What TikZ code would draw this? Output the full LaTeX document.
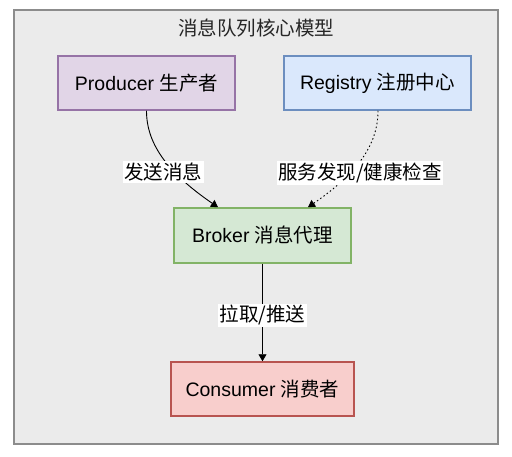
\documentclass[tikz,border=0pt]{standalone}
\usepackage{fontspec}
\setmainfont{Liberation Sans}
\newfontfamily\cjk{Noto Sans CJK SC}
\usetikzlibrary{arrows.meta,calc}
\definecolor{outerfill}{HTML}{EBEBEB}
\definecolor{outerdraw}{HTML}{8C8C8C}
\definecolor{pfill}{HTML}{E1D5E7}\definecolor{pdraw}{HTML}{9673A6}
\definecolor{bfill}{HTML}{DAE8FC}\definecolor{bdraw}{HTML}{6C8EBF}
\definecolor{gfill}{HTML}{D5E8D4}\definecolor{gdraw}{HTML}{82B366}
\definecolor{rfill}{HTML}{F8CECC}\definecolor{rdraw}{HTML}{B85450}
\tikzset{
  box/.style={draw, line width=1.5pt, minimum height=54pt, inner sep=0pt, font=\fontsize{19.5}{23}\selectfont},
  lbl/.style={fill=white, inner sep=1.5pt, font=\fontsize{19.5}{23}\selectfont\cjk},
  conn/.style={line width=0.9pt, -{Triangle[length=7pt,width=8pt]}},
}
\begin{document}
\begin{tikzpicture}[x=1pt,y=-1pt]
\useasboundingbox (0,0) rectangle (512,456);
\draw[fill=outerfill, draw=outerdraw, line width=1.5pt] (14,10) rectangle (498,444);
\node[font=\fontsize{19.5}{23}\selectfont\cjk, text=black!85] (title) at (256,28) {消息队列核心模型};
\node[box, fill=pfill, draw=pdraw, minimum width=177pt] (prod) at (146.5,83) {Producer {\cjk 生产者}};
\node[box, fill=bfill, draw=bdraw, minimum width=187pt] (reg) at (377.5,83) {Registry {\cjk 注册中心}};
\node[box, fill=gfill, draw=gdraw, minimum width=177pt, minimum height=55pt] (broker) at (262.5,235.5) {Broker {\cjk 消息代理}};
\node[box, fill=rfill, draw=rdraw, minimum width=183pt] (cons) at (262.5,389) {Consumer {\cjk 消费者}};
\coordinate (bin1) at ($(broker.north)+(-44.5,0)$);
\coordinate (bin2) at ($(broker.north)+(45.5,0)$);
\draw[conn] (prod.south) .. controls +(0,35) and +(-48,-33) .. (bin1);
\draw[conn, dash pattern=on 1.5pt off 2.5pt] ($(reg.south)+(0.5,0)$) .. controls +(0,35) and +(48,-33) .. (bin2);
\draw[conn] (broker.south) -- (cons.north);
\node[lbl] (l1) at (163,172) {发送消息};
\node[lbl] (l2) at (360,173) {服务发现/健康检查};
\node[lbl] (l3) at (262.5,315) {拉取/推送};
\end{tikzpicture}
\end{document}
